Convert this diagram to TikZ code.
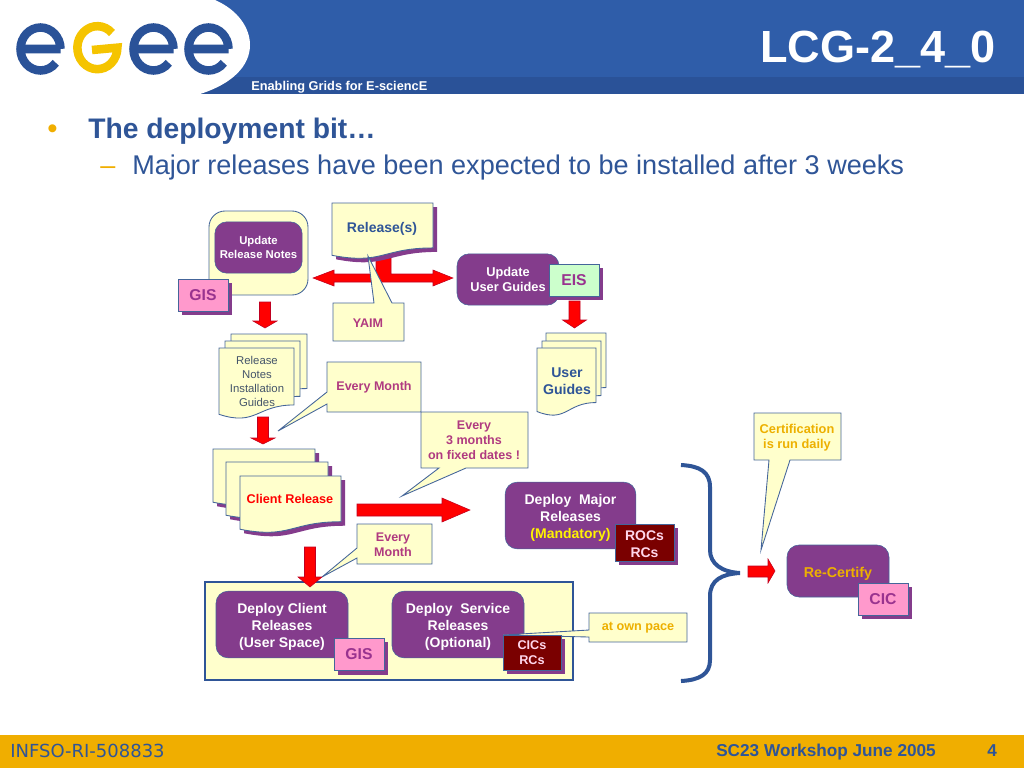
\documentclass[tikz,border=0pt]{standalone}
\usepackage{fontspec}
\setmainfont{Liberation Sans}
\newfontfamily\footfont{DejaVu Sans}
\usetikzlibrary{shadows}
\definecolor{headblue}{HTML}{2F5DA9}
\definecolor{stripeblue}{HTML}{2A5298}
\definecolor{textblue}{HTML}{2F5597}
\definecolor{goldbar}{HTML}{F0AE00}
\definecolor{logogold}{HTML}{F5C400}
\definecolor{boxpurple}{HTML}{843C8C}
\definecolor{edgeblue}{HTML}{44659A}
\definecolor{paleyellow}{HTML}{FFFFCC}
\definecolor{tagpink}{HTML}{FF99CC}
\definecolor{tagpurple}{HTML}{99338F}
\definecolor{taggreen}{HTML}{CCFFCC}
\definecolor{darkred}{HTML}{7A0000}
\definecolor{noteplum}{HTML}{B03A80}
\definecolor{noteorange}{HTML}{EDB000}
\definecolor{notegray}{HTML}{44546A}
\definecolor{arrowedge}{HTML}{C00020}
\newcommand{\szpt}[2]{\fontsize{#1}{#2}\selectfont}
% text block set a little below the middle of its box
\newcommand{\lowtext}[1]{\raisebox{-2.25pt}[\height][\depth]{\begin{tabular}{@{}c@{}}#1\end{tabular}}}
% document sheet with a wavy lower edge: x, y, width, height
\newcommand{\docpath}[4]{(#1,#2) -- (#1+#3,#2) -- (#1+#3,#2+0.802*#4)
  .. controls (#1+0.5*#3,#2+0.802*#4) and (#1+0.5*#3,#2+1.107*#4) .. (#1,#2+0.934*#4) -- cycle}
% red block arrow pointing down: centre x, top, head start, tip
\newcommand{\reddown}[4]{\filldraw[blockred] (#1-5.5,#2) -- (#1+5.5,#2) -- (#1+5.5,#3) -- (#1+12,#3)
  -- (#1,#4) -- (#1-12,#3) -- (#1-5.5,#3) -- cycle;}
\tikzset{
  blockred/.style={fill=red,draw=arrowedge,line width=0.4pt},
  actionbox/.style={draw=edgeblue,fill=boxpurple,rounded corners=9,text=white,inner sep=0pt,
    align=center,font=\bfseries\szpt{10.5}{12.75}},
  tagbox/.style={draw=edgeblue,line width=0.65pt,fill=tagpink,text=tagpurple,inner sep=0pt,font=\bfseries\szpt{11.8}{14},
    general shadow={shadow xshift=3pt,shadow yshift=-3pt,fill=boxpurple}},
  rolebox/.style={draw=edgeblue,fill=darkred,text=tagpink!40,inner sep=0pt,align=center,
    general shadow={shadow xshift=3pt,shadow yshift=-3pt,fill=boxpurple}},
  sheet/.style={draw=edgeblue,line width=0.65pt,fill=paleyellow},
  shadowsheet/.style={fill=boxpurple},
  callout/.style={draw=edgeblue,line width=0.65pt,fill=paleyellow},
  notetext/.style={text=noteplum,inner sep=0pt,align=center,font=\bfseries\szpt{9.4}{11.25}},
  orangetext/.style={text=noteorange,inner sep=0pt,align=center,font=\bfseries\szpt{9.5}{11.25}},
  slidetext/.style={anchor=base west,inner sep=0pt,text=textblue},
}
\begin{document}
\begin{tikzpicture}[x=0.75pt,y=-0.75pt]
  \useasboundingbox (0,0) rectangle (1024,768);
  % header and footer
  \fill[headblue] (0,0) rectangle (1024,94);
  \fill[stripeblue] (0,77) rectangle (1024,94);
  \fill[white] (0,0) -- (215,0) .. controls (238,10) and (250,28) .. (250,45)
    .. controls (250,66) and (232,84) .. (200,94) -- (0,94) -- cycle;
  \fill[goldbar] (0,735) rectangle (1024,768);
  % logo
  \draw[stripeblue,line width=6.4pt] (60.5,49) arc(0:-320:20 and 21.5) (60.5,49) -- (22,49);
  \draw[logogold,line width=6.4pt] (112,33) arc(-43:-360:20 and 21.5) -- (92,50);
  \draw[stripeblue,line width=6.4pt] (173.5,49) arc(0:-320:20 and 21.5) (173.5,49) -- (135,49);
  \draw[stripeblue,line width=6.4pt] (228.5,49) arc(0:-320:20 and 21.5) (228.5,49) -- (190,49);
  \node (title) at (996,62) [anchor=base east,inner sep=0pt,text=white,font=\bfseries\szpt{33.8}{36}] {LCG-2\_4\_0};
  \node (tagline) at (251,90) [anchor=base west,inner sep=0pt,text=white,font=\bfseries\szpt{9.58}{11}] {Enabling Grids for E-sciencE};
  \node (bullet) at (47,138) [slidetext,text=goldbar,font=\szpt{22}{24}] {•};
  \node (headline) at (88,138) [slidetext,font=\bfseries\szpt{21.2}{24}] {The deployment bit…};
  \node (dash) at (100,174) [slidetext,text=goldbar,font=\szpt{20.3}{24}] {–};
  \node (subline) at (132,174) [slidetext,font=\szpt{20.3}{24}] {Major releases have been expected to be installed after 3 weeks};
  \node (project) at (10,757) [slidetext,font=\footfont\szpt{13.5}{14}] {INFSO-RI-508833};
  \node (workshop) at (716,756) [slidetext,font=\bfseries\szpt{12.9}{14}] {SC23 Workshop June 2005};
  \node (pageno) at (987,756) [slidetext,font=\bfseries\szpt{12.9}{14}] {4};
  % red arrow from the release note
  \filldraw[blockred] (313,278) -- (334,270) -- (334,274) -- (376,274) -- (376,258) -- (391,258) -- (391,274)
    -- (433,274) -- (433,270) -- (453,278) -- (433,286) -- (433,282) -- (334,282) -- (334,286) -- cycle;
  % release note
  \fill[shadowsheet] \docpath{336}{207}{101}{56};
  \draw[sheet] \docpath{332}{203}{101}{56};
  \node (release) at (382,228.5) [text=textblue,inner sep=0pt,font=\bfseries\szpt{10.5}{12}] {Release(s)};
  % yaim
  \draw[callout] (333,303) -- (374,303) -- (368,256) -- (392,303) -- (404,303) -- (404,341) -- (333,341) -- cycle;
  \node (yaim) at (368,323) [notetext] {YAIM};
  % update release notes
  \draw[sheet,rounded corners=12] (209,211) rectangle (308,295);
  \node (updatenotes) at (258.5,247.5) [actionbox,minimum width=65.5pt,minimum height=38.5pt,font=\bfseries\szpt{8.5}{10.5}] {Update\\Release Notes};
  \node (gisone) at (203,295) [tagbox,minimum width=37.5pt,minimum height=24pt] {GIS};
  \reddown{265}{302}{321}{328}
  % release notes stack
  \draw[sheet] \docpath{231}{334}{76}{68};
  \draw[sheet] \docpath{225}{341}{75}{69};
  \draw[sheet] \docpath{219}{348}{75}{71};
  \node (notesdoc) at (257,381.5) [inner sep=0pt,align=center,text=notegray,font=\szpt{8.5}{10.3}] {Release\\Notes\\Installation\\Guides};
  % every month
  \draw[callout] (327,362) -- (421,362) -- (421,412) -- (327,412) -- (327,404) -- (278,431) -- (327,392) -- cycle;
  \node (monthone) at (374,387) [notetext] {Every Month};
  % update user guides
  \node (updateguides) at (508,279.5) [actionbox,minimum width=76.5pt,minimum height=38.5pt,font=\bfseries\szpt{9.6}{11.25}] {Update\\User Guides};
  \node (eis) at (574,280) [tagbox,fill=taggreen,minimum width=37.5pt,minimum height=24pt] {EIS};
  \reddown{574.5}{301}{320}{328}
  % user guides stack
  \draw[sheet] \docpath{546}{333}{60}{68};
  \draw[sheet] \docpath{542}{341}{59}{68};
  \draw[sheet] \docpath{537}{348}{59}{68};
  \node (guidesdoc) at (567,381) [inner sep=0pt,align=center,text=textblue,font=\bfseries\szpt{10.6}{12.75}] {User\\Guides};
  \reddown{263}{417}{438}{444}
  % client release stack
  \fill[shadowsheet] \docpath{217}{453}{102}{57};
  \draw[sheet] \docpath{213}{449}{102}{57};
  \fill[shadowsheet] \docpath{230}{466}{102}{57};
  \draw[sheet] \docpath{226}{462}{102}{57};
  \fill[shadowsheet] \docpath{244}{480}{101}{57};
  \draw[sheet] \docpath{240}{476}{101}{57};
  \node (clientdoc) at (290,499) [text=red,inner sep=0pt,font=\bfseries\szpt{9.5}{12}] {Client Release};
  % every three months
  \draw[callout] (421,412) -- (528,412) -- (528,468) -- (466,468) -- (402,496) -- (439,468) -- (421,468) -- cycle;
  \node (monththree) at (474,440.5) [notetext] {Every\\3 months\\on fixed dates !};
  \filldraw[blockred] (357,504) -- (442,504) -- (442,498) -- (470,510) -- (442,522) -- (442,516) -- (357,516) -- cycle;
  % every month again
  \draw[callout] (357,524) -- (432,524) -- (432,564) -- (357,564) -- (357,558) -- (322,577) -- (357,548) -- cycle;
  \node (monthtwo) at (393,544.5) [notetext] {Every\\Month};
  % deployment box
  \draw[textblue,line width=2.2pt,fill=paleyellow] (205,582) rectangle (573,680);
  \reddown{310}{547}{577}{587}
  \node (deployclient) at (282,624.5) [actionbox,minimum width=99pt,minimum height=50pt] {\lowtext{Deploy Client\\Releases\\(User Space)}};
  \node (gistwo) at (359,654.5) [tagbox,minimum width=37.5pt,minimum height=24.5pt] {GIS};
  \node (deployservice) at (458,624.5) [actionbox,minimum width=99pt,minimum height=50pt] {\lowtext{Deploy\ \ Service\\Releases\\(Optional)}};
  \draw[callout] (589,613) -- (687,613) -- (687,642) -- (589,642) -- (589,637) -- (503,635) -- (589,630) -- cycle;
  \node (ownpace) at (638,628) [orangetext] {at own pace};
  \node (cics) at (532,652.5) [rolebox,minimum width=43.5pt,minimum height=26pt,font=\bfseries\szpt{9.5}{11.25}] {CICs\\RCs};
  % major releases
  \node (deploymajor) at (570.5,515.5) [actionbox,minimum width=98pt,minimum height=50pt] {\lowtext{Deploy\ \ Major\\Releases\\\textcolor{yellow}{(Mandatory)}}};
  \node (rocs) at (644.5,542.5) [rolebox,minimum width=44pt,minimum height=27.5pt,font=\bfseries\szpt{10.5}{12.75}] {\lowtext{ROCs\\RCs}};
  % brace
  \draw[textblue,line width=3pt] (681,465) .. controls (700,466) and (710,472) .. (710,487) -- (710,550)
    .. controls (710,564) and (722,572) .. (740,573) .. controls (722,574) and (710,580) .. (710,596) -- (710,660)
    .. controls (710,674) and (700,680) .. (681,681);
  \filldraw[blockred] (748,566) -- (768,566) -- (768,559) -- (775,571) -- (768,583) -- (768,577) -- (748,577) -- cycle;
  % re-certify
  \draw[callout] (754,413) -- (841,413) -- (841,460) -- (790,460) -- (761,550) -- (769,460) -- (754,460) -- cycle;
  \node (certify) at (797,437.5) [orangetext,font=\bfseries\szpt{9.6}{11.25}] {Certification\\is run daily};
  \node (recertify) at (838,571) [actionbox,text=noteorange,minimum width=76.5pt,minimum height=39pt,font=\bfseries\szpt{10.7}{12}] {\lowtext{Re-Certify}};
  \node (cic) at (883,599) [tagbox,minimum width=37.5pt,minimum height=24pt] {CIC};
\end{tikzpicture}
\end{document}
